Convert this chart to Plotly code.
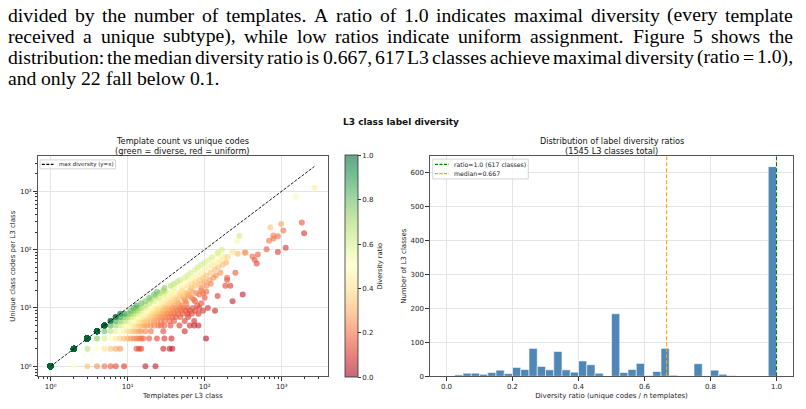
import numpy as np
import plotly.graph_objects as go

# ---------------- data ----------------
# Left panel: classes with maximal diversity (unique codes == templates), count of classes at each point
diag_templates = [1, 2, 3, 4, 5, 6, 7, 8]
diag_class_counts = [330, 160, 80, 30, 12, 2, 2, 1]

# Left panel: other classes, grouped by number of unique class codes (y) -> templates per class (x)
codes_rows = [1, 2, 3, 4, 5, 6, 7, 8, 9, 10, 11, 12, 13, 14, 15, 16, 17, 18, 19, 20,
              22, 24, 26, 28, 30, 33, 36, 40, 45, 50, 55, 60]
templates_rows = [
    [2, 3, 4, 5, 6, 7, 9, 17, 23],
    [3, 4, 5, 6, 7, 8, 13, 14, 15, 29, 35, 38],
    [4, 5, 6, 7, 8, 9, 10, 11, 12, 13, 14, 15, 16, 19, 24, 30, 37, 104],
    [5, 6, 7, 8, 9, 10, 11, 12, 13, 14, 15, 17, 20, 29, 55],
    [6, 7, 8, 9, 10, 11, 12, 13, 14, 15, 16, 17, 18, 20, 22, 25, 27, 30, 36, 47, 64, 73, 83],
    [7, 8, 9, 10, 11, 12, 13, 14, 15, 16, 17, 18, 20, 22, 24, 27, 30, 35, 40, 55, 73],
    [8, 9, 10, 11, 12, 13, 14, 15, 16, 18, 20, 22, 24, 26, 28, 31, 34, 38, 42, 48, 61],
    [9, 10, 11, 12, 13, 14, 15, 17, 19, 21, 23, 25, 28, 30, 33, 36, 40, 45, 52, 60, 68, 83],
    [11, 12, 13, 14, 16, 18, 20, 22, 24, 26, 29, 32, 35, 39, 44, 50, 57, 64, 75, 95, 136],
    [12, 13, 14, 15, 17, 19, 21, 23, 25, 28, 31, 34, 38, 42, 47, 53, 60, 70, 85, 110],
    [13, 17, 21, 26, 32, 40, 50, 80],
    [15, 19, 24, 30, 37, 46, 58, 90],
    [17, 22, 28, 35, 44, 56, 75, 230],
    [20, 26, 33, 42, 55, 72],
    [19, 25, 32, 40, 52, 68, 100],
    [23, 30, 38, 48, 62, 147],
    [22, 29, 37, 47, 60, 85, 311],
    [26, 34, 44, 57, 78, 95],
    [24, 31, 40, 52, 70, 105],
    [29, 38, 50, 65, 90],
    [30, 40, 52, 66, 90],
    [36, 46, 60, 75, 105, 185, 215],
    [40, 52, 68, 88, 120],
    [44, 58, 75, 100],
    [48, 64, 85, 115, 195],
    [55, 72, 95, 130, 195],
    [60, 80, 105, 140],
    [66, 90, 120, 160, 250],
    [75, 100, 135],
    [82, 112, 150],
    [90, 125, 170],
    [100, 140, 190],
]

# Left panel: sparse large classes
sparse_templates = [112, 135, 160, 125, 150, 180, 199, 148, 161, 268, 148, 330, 229, 890,
                    167, 635, 1125, 473, 445, 417, 490, 338, 263, 684, 780, 890, 282, 780,
                    1950, 1050, 710, 980, 1820, 1520, 2650]
sparse_codes = [66, 66, 66, 75, 75, 75, 75, 85, 85, 85, 88, 88, 91, 91,
                100, 101, 108, 58, 67, 76, 82, 89, 140, 142, 155, 170, 173, 175,
                190, 212, 240, 275, 290, 800, 1150]

# Right panel: histogram of diversity ratios (40 bins on [0, 1])
bin_counts = [0, 4, 9, 9, 6, 11, 18, 8, 26, 20,
              82, 29, 19, 73, 19, 12, 45, 34, 9, 0,
              184, 11, 20, 38, 2, 14, 82, 3, 1, 1,
              37, 1, 18, 6, 2, 0, 0, 0, 0, 617]
median_ratio = 0.667
n_total_classes = 1545
n_max_diversity = 617

# ---------------- paragraph text ----------------
para_lines = [
    "divided by the number of templates.  A ratio of 1.0 indicates maximal diversity (every template",
    "received a unique subtype), while low ratios indicate uniform assignment.  Figure 5 shows the",
    "distribution: the median diversity ratio is 0.667, 617 L3 classes achieve maximal diversity (ratio = 1.0),",
    "and only 22 fall below 0.1.",
]

# ---------------- helpers ----------------
W, H = 806, 409
def px(x): return x / W
def py(y): return 1 - y / H

# Times / Liberation Serif advance widths (per 1000 em)
TW = {'a': 444, 'b': 500, 'c': 444, 'd': 500, 'e': 444, 'f': 333, 'g': 500, 'h': 500, 'i': 278,
      'j': 278, 'k': 500, 'l': 278, 'm': 778, 'n': 500, 'o': 500, 'p': 500, 'q': 500, 'r': 333,
      's': 389, 't': 278, 'u': 500, 'v': 500, 'w': 722, 'x': 500, 'y': 500, 'z': 444,
      'A': 722, 'F': 556, 'L': 611, '.': 250, ',': 250, ':': 278, '(': 333, ')': 333, '=': 564,
      ' ': 250}
def tw(s, fs):
    return sum(TW.get(ch, 500) for ch in s) * fs / 1000.0

annotations = []
shapes = []

# paragraph, justified between left and right margins
FS = 19.7
left_m, right_m = 7.0, 792.0
baselines = [20.7, 42.0, 63.3, 84.6]
for i, line in enumerate(para_lines):
    words = line.split()
    widths = [tw(w, FS) for w in words]
    if i < len(para_lines) - 1:
        gap = (right_m - left_m - sum(widths)) / (len(words) - 1)
    else:
        gap = 250 * FS / 1000.0
    x = left_m
    for w, wd in zip(words, widths):
        annotations.append(dict(x=px(x), y=py(baselines[i] - 0.30 * FS), xref="paper", yref="paper",
                                text=w, showarrow=False, xanchor="left", yanchor="middle",
                                borderpad=0,
                                font=dict(family="Liberation Serif", size=FS, color="black")))
        x += wd + gap

# ---------------- build scatter data ----------------
tx, ty = [], []
for t, c in zip(diag_templates, diag_class_counts):
    tx += [t] * c
    ty += [t] * c
for c, row in zip(codes_rows, templates_rows):
    tx += row
    ty += [c] * len(row)
tx += sparse_templates
ty += sparse_codes
tx = np.array(tx, dtype=float)
ty = np.array(ty, dtype=float)
ratio = ty / tx

rdylgn = ["#a50026", "#d73027", "#f46d43", "#fdae61", "#fee08b", "#ffffbf",
          "#d9ef8b", "#a6d96a", "#66bd63", "#1a9850", "#006837"]
def rgba(h, a=0.6):
    h = h.lstrip('#')
    return "rgba(%d,%d,%d,%.2f)" % (int(h[0:2], 16), int(h[2:4], 16), int(h[4:6], 16), a)
cscale = [[i / 10.0, rgba(c)] for i, c in enumerate(rdylgn)]

FONT = "DejaVu Sans"
fig = go.Figure()

fig.add_trace(go.Scatter(
    x=tx, y=ty, mode="markers", xaxis="x", yaxis="y", showlegend=False,
    marker=dict(size=6, color=ratio, cmin=0, cmax=1, colorscale=cscale, line=dict(width=0),
                colorbar=dict(x=px(345), xanchor="left", xpad=0, ypad=0,
                              y=py(268.9), yanchor="middle", len=222.3, lenmode="pixels",
                              thickness=12.5, thicknessmode="pixels",
                              outlinewidth=0.8, outlinecolor="#333",
                              tickvals=[0, 0.2, 0.4, 0.6, 0.8, 1.0],
                              ticktext=["0.0", "0.2", "0.4", "0.6", "0.8", "1.0"],
                              ticks="outside", ticklen=3, tickwidth=0.8, tickcolor="#333",
                              tickfont=dict(family=FONT, size=7, color="#222"),
                              title=dict(text="Diversity ratio", side="right",
                                         font=dict(family=FONT, size=6.6, color="#222"))))))

max_t = float(tx.max())
fig.add_trace(go.Scatter(x=[1, max_t], y=[1, max_t], mode="lines", xaxis="x", yaxis="y",
                         showlegend=False, line=dict(color="black", width=0.9, dash="3px,1.5px")))

# ---------------- histogram ----------------
bw = 1.0 / len(bin_counts)
centers = np.arange(len(bin_counts)) * bw + bw / 2
fig.add_trace(go.Bar(x=centers, y=bin_counts, width=bw, xaxis="x2", yaxis="y2", showlegend=False,
                     marker=dict(color="#4682B4", opacity=0.95,
                                 line=dict(color="rgba(255,255,255,0.65)", width=0.9))))
ytop = max(bin_counts) * 1.05
fig.add_trace(go.Scatter(x=[1.0, 1.0], y=[0, ytop], mode="lines", xaxis="x2", yaxis="y2",
                         showlegend=False, line=dict(color="green", width=1.1, dash="4px,2px")))
fig.add_trace(go.Scatter(x=[median_ratio, median_ratio], y=[0, ytop], mode="lines", xaxis="x2",
                         yaxis="y2", showlegend=False,
                         line=dict(color="orange", width=1.1, dash="4px,2px")))

# ---------------- axes ----------------
grid = "#e4e4e4"
axline = dict(showline=True, linecolor="#555", linewidth=1.3, mirror=True,
              ticks="outside", ticklen=3.5, tickwidth=0.8, tickcolor="#333",
              tickfont=dict(family=FONT, size=7, color="#222"),
              gridcolor=grid, gridwidth=0.8, zeroline=False)
minor_vals = [m * 10 ** e for e in range(-1, 4) for m in range(2, 10)]
dec = [1, 10, 100, 1000]
dec_txt = ["10\u2070", "10\u00b9", "10\u00b2", "10\u00b3"]

fig.update_layout(
    width=W, height=H, margin=dict(l=0, r=0, t=0, b=0),
    paper_bgcolor="white", plot_bgcolor="white",
    xaxis=dict(domain=[px(37.7), px(328)], anchor="y", type="log",
               range=[np.log10(0.68), 3.6], tickvals=dec, ticktext=dec_txt,
               minor=dict(tickmode="array", tickvals=minor_vals, ticks="outside", ticklen=2,
                          tickcolor="#333", showgrid=False),
               title=dict(text="Templates per L3 class", standoff=2,
                          font=dict(family=FONT, size=7, color="#222")),
               **axline),
    yaxis=dict(domain=[py(380), py(157.7)], anchor="x", type="log",
               range=[-0.17, 3.6], tickvals=dec, ticktext=dec_txt,
               minor=dict(tickmode="array", tickvals=minor_vals, ticks="outside", ticklen=2,
                          tickcolor="#333", showgrid=False),
               title=dict(text="Unique class codes per L3 class", standoff=3,
                          font=dict(family=FONT, size=7, color="#222")),
               **axline),
    xaxis2=dict(domain=[px(430), px(793)], anchor="y2", range=[-0.05, 1.05],
                tickvals=[0, 0.2, 0.4, 0.6, 0.8, 1.0],
                ticktext=["0.0", "0.2", "0.4", "0.6", "0.8", "1.0"],
                title=dict(text="Diversity ratio (unique codes / n templates)", standoff=2,
                           font=dict(family=FONT, size=7, color="#222")),
                **axline),
    yaxis2=dict(domain=[py(380), py(157.7)], anchor="x2", range=[0, ytop],
                tickvals=[0, 100, 200, 300, 400, 500, 600],
                title=dict(text="Number of L3 classes", standoff=3,
                           font=dict(family=FONT, size=7, color="#222")),
                **axline),
)

# ---------------- titles ----------------
def ann(x, y, text, size, bold=False, xanchor="center"):
    annotations.append(dict(x=px(x), y=py(y), xref="paper", yref="paper", showarrow=False,
                            text=("<b>%s</b>" % text) if bold else text,
                            xanchor=xanchor, yanchor="middle", borderpad=0,
                            font=dict(family=FONT, size=size, color="#111")))

ann(401, 122.7, "L3 class label diversity", 9, bold=True)
ann(182.7, 142.6, "Template count vs unique codes", 8.2)
ann(182.7, 152.2, "(green = diverse, red = uniform)", 8.2)
ann(611.7, 142.6, "Distribution of label diversity ratios", 8.2)
ann(611.7, 152.2, "(%d L3 classes total)" % n_total_classes, 8.2)

# ---------------- legends (drawn manually, compact like the original) ----------------
def legend_box(x0, y0, x1, y1):
    shapes.append(dict(type="rect", xref="paper", yref="paper", x0=px(x0), x1=px(x1),
                       y0=py(y1), y1=py(y0), fillcolor="rgba(255,255,255,0.85)",
                       line=dict(color="#cccccc", width=0.8), layer="above"))

def legend_item(x0, x1, y, color, text, size):
    shapes.append(dict(type="line", xref="paper", yref="paper", x0=px(x0), x1=px(x1),
                       y0=py(y), y1=py(y), line=dict(color=color, width=1.1, dash="3px,1.5px"),
                       layer="above"))
    annotations.append(dict(x=px(x1 + 4.5), y=py(y), xref="paper", yref="paper", showarrow=False,
                            text=text, xanchor="left", yanchor="middle", borderpad=0,
                            font=dict(family=FONT, size=size, color="#222")))

legend_box(40, 161.5, 115.5, 170.5)
legend_item(41.8, 53.5, 166, "black", "max diversity (y=x)", 5.5)

legend_box(432.7, 160.7, 528.3, 180.7)
legend_item(435, 449, 166, "green", "ratio=1.0 (%d classes)" % n_max_diversity, 6.2)
legend_item(435, 449, 175.3, "orange", "median=%.3f" % median_ratio, 6.2)

fig.update_layout(annotations=annotations, shapes=shapes)
fig.write_html("out.html")
